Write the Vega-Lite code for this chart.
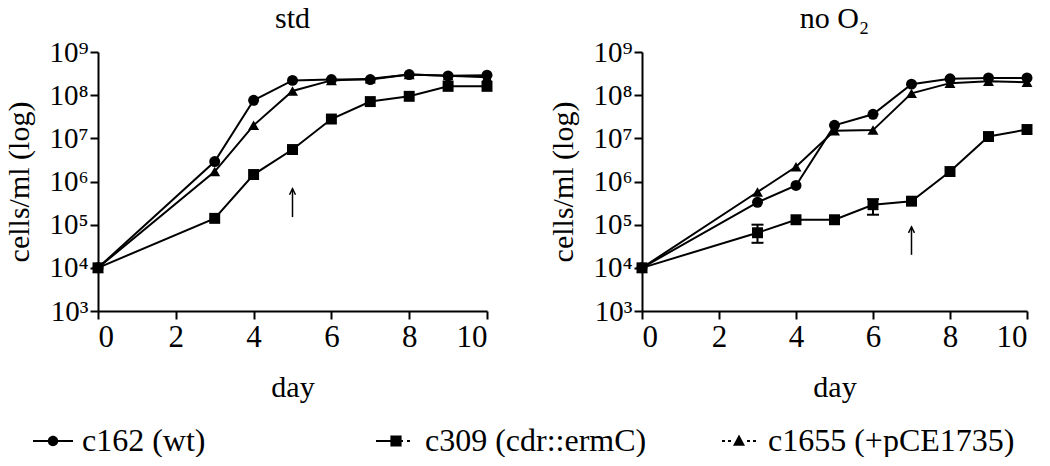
{
  "$schema": "https://vega.github.io/schema/vega-lite/v6.json",
  "background": "white",
  "padding": {"left": 4, "top": 4, "right": 5, "bottom": 0},
  "config": {
    "font": "Liberation Serif",
    "view": {"stroke": null},
    "axis": {"grid": false, "domainColor": "black", "domainWidth": 2, "tickColor": "black", "tickWidth": 2, "tickSize": 8,
             "labelFont": "Liberation Serif", "labelFontSize": 29, "labelColor": "black",
             "titleFont": "Liberation Serif", "titleFontSize": 30, "titleFontWeight": "normal", "titleColor": "black"},
    "title": {"font": "Liberation Serif", "fontSize": 30, "fontWeight": "normal", "color": "black", "offset": 4},
    "legend": {"labelFont": "Liberation Serif", "labelFontSize": 32, "labelColor": "black", "labelLimit": 500}
  },
  "datasets": {
    "growth": [
      {"panel": "std", "strain": "c162 (wt)", "day": 0, "cells": 10000},
      {"panel": "std", "strain": "c162 (wt)", "day": 3, "cells": 2900000},
      {"panel": "std", "strain": "c162 (wt)", "day": 4, "cells": 76000000},
      {"panel": "std", "strain": "c162 (wt)", "day": 5, "cells": 220000000},
      {"panel": "std", "strain": "c162 (wt)", "day": 6, "cells": 230000000},
      {"panel": "std", "strain": "c162 (wt)", "day": 7, "cells": 230000000},
      {"panel": "std", "strain": "c162 (wt)", "day": 8, "cells": 300000000},
      {"panel": "std", "strain": "c162 (wt)", "day": 9, "cells": 280000000},
      {"panel": "std", "strain": "c162 (wt)", "day": 10, "cells": 290000000},
      {"panel": "std", "strain": "c309 (cdr::ermC)", "day": 0, "cells": 10000},
      {"panel": "std", "strain": "c309 (cdr::ermC)", "day": 3, "cells": 140000},
      {"panel": "std", "strain": "c309 (cdr::ermC)", "day": 4, "cells": 1450000},
      {"panel": "std", "strain": "c309 (cdr::ermC)", "day": 5, "cells": 5500000},
      {"panel": "std", "strain": "c309 (cdr::ermC)", "day": 6, "cells": 28000000},
      {"panel": "std", "strain": "c309 (cdr::ermC)", "day": 7, "cells": 71000000},
      {"panel": "std", "strain": "c309 (cdr::ermC)", "day": 8, "cells": 94000000},
      {"panel": "std", "strain": "c309 (cdr::ermC)", "day": 9, "cells": 160000000},
      {"panel": "std", "strain": "c309 (cdr::ermC)", "day": 10, "cells": 160000000},
      {"panel": "std", "strain": "c1655 (+pCE1735)", "day": 0, "cells": 10000},
      {"panel": "std", "strain": "c1655 (+pCE1735)", "day": 3, "cells": 1700000},
      {"panel": "std", "strain": "c1655 (+pCE1735)", "day": 4, "cells": 20000000},
      {"panel": "std", "strain": "c1655 (+pCE1735)", "day": 5, "cells": 125000000},
      {"panel": "std", "strain": "c1655 (+pCE1735)", "day": 6, "cells": 220000000},
      {"panel": "std", "strain": "c1655 (+pCE1735)", "day": 7, "cells": 240000000},
      {"panel": "std", "strain": "c1655 (+pCE1735)", "day": 8, "cells": 300000000},
      {"panel": "std", "strain": "c1655 (+pCE1735)", "day": 9, "cells": 280000000},
      {"panel": "std", "strain": "c1655 (+pCE1735)", "day": 10, "cells": 260000000},
      {"panel": "noO2", "strain": "c162 (wt)", "day": 0, "cells": 10000},
      {"panel": "noO2", "strain": "c162 (wt)", "day": 3, "cells": 330000},
      {"panel": "noO2", "strain": "c162 (wt)", "day": 4, "cells": 810000},
      {"panel": "noO2", "strain": "c162 (wt)", "day": 5, "cells": 20000000},
      {"panel": "noO2", "strain": "c162 (wt)", "day": 6, "cells": 36000000},
      {"panel": "noO2", "strain": "c162 (wt)", "day": 7, "cells": 180000000},
      {"panel": "noO2", "strain": "c162 (wt)", "day": 8, "cells": 240000000},
      {"panel": "noO2", "strain": "c162 (wt)", "day": 9, "cells": 250000000},
      {"panel": "noO2", "strain": "c162 (wt)", "day": 10, "cells": 250000000},
      {"panel": "noO2", "strain": "c309 (cdr::ermC)", "day": 0, "cells": 10000},
      {"panel": "noO2", "strain": "c309 (cdr::ermC)", "day": 3, "cells": 65000, "lo": 38000, "hi": 100000},
      {"panel": "noO2", "strain": "c309 (cdr::ermC)", "day": 4, "cells": 130000},
      {"panel": "noO2", "strain": "c309 (cdr::ermC)", "day": 5, "cells": 130000},
      {"panel": "noO2", "strain": "c309 (cdr::ermC)", "day": 6, "cells": 290000, "lo": 170000, "hi": 390000},
      {"panel": "noO2", "strain": "c309 (cdr::ermC)", "day": 7, "cells": 350000},
      {"panel": "noO2", "strain": "c309 (cdr::ermC)", "day": 8, "cells": 1700000},
      {"panel": "noO2", "strain": "c309 (cdr::ermC)", "day": 9, "cells": 11000000},
      {"panel": "noO2", "strain": "c309 (cdr::ermC)", "day": 10, "cells": 16000000},
      {"panel": "noO2", "strain": "c1655 (+pCE1735)", "day": 0, "cells": 10000},
      {"panel": "noO2", "strain": "c1655 (+pCE1735)", "day": 3, "cells": 570000},
      {"panel": "noO2", "strain": "c1655 (+pCE1735)", "day": 4, "cells": 2200000},
      {"panel": "noO2", "strain": "c1655 (+pCE1735)", "day": 5, "cells": 15000000},
      {"panel": "noO2", "strain": "c1655 (+pCE1735)", "day": 6, "cells": 15500000},
      {"panel": "noO2", "strain": "c1655 (+pCE1735)", "day": 7, "cells": 110000000},
      {"panel": "noO2", "strain": "c1655 (+pCE1735)", "day": 8, "cells": 190000000},
      {"panel": "noO2", "strain": "c1655 (+pCE1735)", "day": 9, "cells": 210000000},
      {"panel": "noO2", "strain": "c1655 (+pCE1735)", "day": 10, "cells": 200000000}
    ],
    "arrows": [
      {"panel": "std", "day": 5, "base": 150000, "tip": 680000},
      {"panel": "noO2", "day": 7, "base": 20000, "tip": 89000}
    ]
  },
  "resolve": {"scale": {"shape": "independent"}, "legend": {"shape": "independent"}},
  "bounds": "flush",
  "spacing": 155,
  "hconcat": [
    {
      "title": "std",
      "width": 389, "height": 259,
      "resolve": {"scale": {"shape": "independent"}, "legend": {"shape": "independent"}},
      "layer": [
        {
          "data": {"name": "growth"},
          "transform": [{"filter": "datum.panel == 'std'"}],
          "mark": {"type": "line", "color": "black", "strokeWidth": 2},
          "encoding": {
            "x": {"field": "day", "type": "quantitative", "scale": {"domain": [0, 10], "nice": false}, "axis": {"values": [0, 2, 4, 6, 8, 10], "title": "day", "labelFontSize": 31, "labelPadding": 3, "titlePadding": 20}},
            "y": {"field": "cells", "type": "quantitative", "scale": {"type": "log", "domain": [1000, 1000000000], "nice": false}, "axis": {"values": [1000, 10000, 100000, 1000000, 10000000, 100000000, 1000000000], "title": "cells/ml (log)", "labelPadding": 2, "titlePadding": 14, "labelExpr": "'10' + ['⁰','¹','²','³','⁴','⁵','⁶','⁷','⁸','⁹'][round(log(datum.value)/LN10)]"}},
            "detail": {"field": "strain"},
            "order": {"field": "day"}
          }
        },
        {
          "data": {"name": "growth"},
          "transform": [{"filter": "datum.panel == 'std'"}],
          "mark": {"type": "point", "filled": true, "color": "black", "opacity": 1, "size": 120},
          "encoding": {
            "x": {"field": "day", "type": "quantitative"},
            "y": {"field": "cells", "type": "quantitative"},
            "shape": {"field": "strain", "type": "nominal", "title": null, "legend": null,
              "scale": {"domain": ["c162 (wt)", "c309 (cdr::ermC)", "c1655 (+pCE1735)"], "range": ["circle", "square", "triangle-up"]}}
          }
        },
        {
          "data": {"name": "growth"},
          "transform": [{"filter": "datum.panel == 'std'"}],
          "mark": {"type": "point", "filled": true, "color": "black", "opacity": 0, "size": 120},
          "encoding": {
            "x": {"field": "day", "type": "quantitative"},
            "y": {"field": "cells", "type": "quantitative"},
            "shape": {"field": "strain", "type": "nominal", "title": null,
              "scale": {"domain": ["c162 (wt)", "c309 (cdr::ermC)", "c1655 (+pCE1735)"], "range": [
                "M-1,-0.05H1V0.05H-1ZM-0.26,0A0.26,0.26 0 1,1 0.26,0A0.26,0.26 0 1,1 -0.26,0Z",
                "M-1,-0.05H0.35V0.05H-1ZM0.55,-0.05H0.7V0.05H0.55ZM-0.28,-0.28H0.28V0.28H-0.28Z",
                "M-0.85,-0.05H-0.7V0.05H-0.85ZM-0.55,-0.05H-0.4V0.05H-0.55ZM0.4,-0.05H0.55V0.05H0.4ZM0.7,-0.05H0.85V0.05H0.7ZM0,-0.32L0.3,0.24H-0.3Z"]},
              "legend": {"orient": "none", "legendX": -66, "legendY": 368, "direction": "horizontal", "columns": 3, "gridAlign": "all", "columnPadding": 44, "symbolSize": 1600, "labelOffset": 8, "labelLimit": 500,
                "symbolFillColor": "black", "symbolOpacity": 1}}
          }
        },
        {
          "data": {"name": "arrows"},
          "transform": [{"filter": "datum.panel == 'std'"}],
          "mark": {"type": "rule", "color": "black", "strokeWidth": 1.5},
          "encoding": {"x": {"field": "day", "type": "quantitative"}, "y": {"field": "base", "type": "quantitative"}, "y2": {"field": "tip"}}
        },
        {
          "data": {"name": "arrows"},
          "transform": [{"filter": "datum.panel == 'std'"}],
          "mark": {"type": "point", "shape": "M-0.5,1L0,0L0.5,1", "filled": false, "color": "black", "strokeWidth": 1.5, "size": 144, "opacity": 1},
          "encoding": {"x": {"field": "day", "type": "quantitative"}, "y": {"field": "tip", "type": "quantitative"}}
        }
      ]
    },
    {
      "title": "no O₂",
      "width": 385, "height": 259,
      "layer": [
        {
          "data": {"name": "growth"},
          "transform": [{"filter": "datum.panel == 'noO2'"}],
          "mark": {"type": "line", "color": "black", "strokeWidth": 2},
          "encoding": {
            "x": {"field": "day", "type": "quantitative", "scale": {"domain": [0, 10], "nice": false}, "axis": {"values": [0, 2, 4, 6, 8, 10], "title": "day", "labelFontSize": 31, "labelPadding": 3, "titlePadding": 20}},
            "y": {"field": "cells", "type": "quantitative", "scale": {"type": "log", "domain": [1000, 1000000000], "nice": false}, "axis": {"values": [1000, 10000, 100000, 1000000, 10000000, 100000000, 1000000000], "title": "cells/ml (log)", "labelPadding": 2, "titlePadding": 14, "labelExpr": "'10' + ['⁰','¹','²','³','⁴','⁵','⁶','⁷','⁸','⁹'][round(log(datum.value)/LN10)]"}},
            "detail": {"field": "strain"},
            "order": {"field": "day"}
          }
        },
        {
          "data": {"name": "growth"},
          "transform": [{"filter": "datum.panel == 'noO2' && isValid(datum.lo)"}],
          "mark": {"type": "rule", "color": "black", "strokeWidth": 2},
          "encoding": {"x": {"field": "day", "type": "quantitative"}, "y": {"field": "lo", "type": "quantitative"}, "y2": {"field": "hi"}}
        },
        {
          "data": {"name": "growth"},
          "transform": [{"filter": "datum.panel == 'noO2' && isValid(datum.lo)"}, {"fold": ["lo", "hi"], "as": ["end", "val"]}],
          "mark": {"type": "tick", "orient": "horizontal", "color": "black", "thickness": 2, "size": 12, "opacity": 1},
          "encoding": {"x": {"field": "day", "type": "quantitative"}, "y": {"field": "val", "type": "quantitative"}}
        },
        {
          "data": {"name": "growth"},
          "transform": [{"filter": "datum.panel == 'noO2'"}],
          "mark": {"type": "point", "filled": true, "color": "black", "opacity": 1, "size": 120},
          "encoding": {
            "x": {"field": "day", "type": "quantitative"},
            "y": {"field": "cells", "type": "quantitative"},
            "shape": {"field": "strain", "type": "nominal", "title": null, "legend": null,
              "scale": {"domain": ["c162 (wt)", "c309 (cdr::ermC)", "c1655 (+pCE1735)"], "range": ["circle", "square", "triangle-up"]}}
          }
        },
        {
          "data": {"name": "arrows"},
          "transform": [{"filter": "datum.panel == 'noO2'"}],
          "mark": {"type": "rule", "color": "black", "strokeWidth": 1.5},
          "encoding": {"x": {"field": "day", "type": "quantitative"}, "y": {"field": "base", "type": "quantitative"}, "y2": {"field": "tip"}}
        },
        {
          "data": {"name": "arrows"},
          "transform": [{"filter": "datum.panel == 'noO2'"}],
          "mark": {"type": "point", "shape": "M-0.5,1L0,0L0.5,1", "filled": false, "color": "black", "strokeWidth": 1.5, "size": 144, "opacity": 1},
          "encoding": {"x": {"field": "day", "type": "quantitative"}, "y": {"field": "tip", "type": "quantitative"}}
        }
      ]
    }
  ]
}
